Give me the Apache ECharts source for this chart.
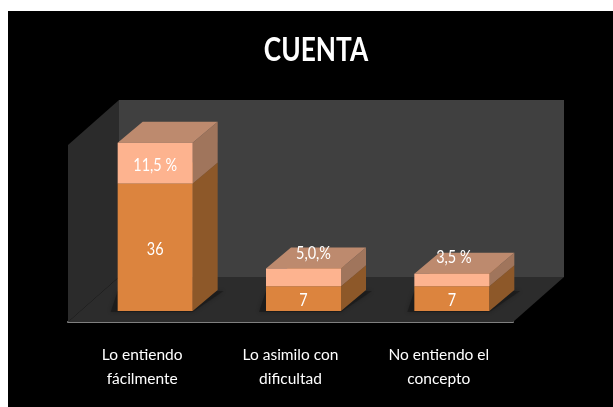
<!DOCTYPE html>
<html>
<head>
<meta charset="utf-8">
<style>
html, body { margin: 0; padding: 0; background: #fff; }
#chart { width: 613px; height: 407px; }
</style>
<script src="https://cdn.jsdelivr.net/npm/echarts@6/dist/echarts.min.js"></script>
</head>
<body>
<div id="chart"></div>
<script>
var categories = ['Lo entiendo\nfácilmente', 'Lo asimilo con\ndificultad', 'No entiendo el\nconcepto'];
var cuenta = [36, 7, 7];
var porcentaje = [11.5, 5, 3.5];
var cuentaText = ['36', '7', '7'];
var porcentajeText = ['11,5 %', '5,0,%', '3,5 %'];

var fontName = 'Lato';

// depth of the fake 3d box, and where the bars stand inside it
var boxDx = 51, boxDy = 45;
var barOffX = 13, barOffY = 11;
var barDx = 25, barDy = 21;
var barWidth = 75;

// hand moved labels (dx, dy from the middle of the segment)
var countLabelMove = [[0, 2], [0, 2], [0, 2]];
var pctLabelMove = [[0, 2], [10, -24], [2, -23]];

function poly(points, color, extra) {
	var el = { type: 'polygon', shape: { points: points }, style: { fill: color }, silent: true };
	if (extra) {
		for (var k in extra) el.style[k] = extra[k];
	}
	return el;
}

function renderBox(params) {
	var r = params.coordSys;
	var l = r.x, rgt = r.x + r.width, t = r.y, b = r.y + r.height;
	return {
		type: 'group',
		children: [
			// back wall
			poly([[l + boxDx, t - boxDy], [rgt + boxDx, t - boxDy], [rgt + boxDx, b - boxDy], [l + boxDx, b - boxDy]], '#404040'),
			// side wall
			poly([[l, t], [l + boxDx, t - boxDy], [l + boxDx, b - boxDy], [l, b]], '#2b2b2b'),
			// floor
			poly([[l, b], [rgt, b], [rgt + boxDx, b - boxDy], [l + boxDx, b - boxDy]], '#2c2c2c')
		]
	};
}

function renderSegment(colors, textArr, moves) {
	return function (params, api) {
		var i = api.value(0);
		var p0 = api.coord([i, api.value(1)]);
		var p1 = api.coord([i, api.value(1) + api.value(2)]);
		var x0 = p0[0] + barOffX - barWidth / 2;
		var x1 = x0 + barWidth;
		var y0 = p0[1] - barOffY;
		var y1 = p1[1] - barOffY;
		var mv = moves[i];
		var children = [];
		if (colors.shadow) {
			children.push(poly([[x0 - 7, y0 + 1], [x1, y0 + 1], [x1 + barDx + 6, y0 - barDy + 1], [x0, y0 - barDy + 1]], 'rgba(24,24,24,0.6)', { shadowBlur: 4, shadowColor: 'rgba(0,0,0,0.4)' }));
		}
		children.push(poly([[x1, y0], [x1 + barDx, y0 - barDy], [x1 + barDx, y1 - barDy], [x1, y1]], colors.side));
		children.push(poly([[x0, y1], [x1, y1], [x1 + barDx, y1 - barDy], [x0 + barDx, y1 - barDy]], colors.top));
		children.push(poly([[x0, y0], [x1, y0], [x1, y1], [x0, y1]], colors.front));
		children.push({
			type: 'text',
			silent: true,
			x: (x0 + x1) / 2 + mv[0],
			y: (y0 + y1) / 2 + mv[1],
			scaleX: 0.85,
			style: {
				text: textArr[i],
				x: 0,
				y: 0,
				fill: '#fff',
				font: '17px ' + fontName,
				textAlign: 'center',
				textVerticalAlign: 'middle'
			}
		});
		return { type: 'group', children: children };
	};
}

var cuentaData = [];
var porcentajeData = [];
for (var i = 0; i < categories.length; i++) {
	cuentaData.push([i, 0, cuenta[i]]);
	porcentajeData.push([i, cuenta[i], porcentaje[i]]);
}

var myChart = echarts.init(document.getElementById('chart'), null, { renderer: 'canvas' });

var option = {
	backgroundColor: '#fff',
	animation: false,
	graphic: [{
		type: 'rect',
		z: -1,
		shape: { x: 8, y: 11, width: 605, height: 396 },
		style: { fill: '#000' }
	}, {
		// title is squeezed sideways like in the picture, so not a title component
		type: 'text',
		z: 5,
		x: 316,
		y: 51,
		scaleX: 0.82,
		style: {
			text: 'CUENTA',
			x: 0,
			y: 0,
			fill: '#fff',
			font: 'bold 32px ' + fontName,
			textAlign: 'center',
			textVerticalAlign: 'middle'
		}
	}],
	grid: { left: 68, top: 145, width: 445, height: 177 },
	xAxis: {
		type: 'category',
		data: categories,
		axisLine: { show: true, lineStyle: { color: '#808080', width: 2 } },
		axisTick: { show: false },
		splitLine: { show: false },
		axisLabel: {
			color: '#fff',
			fontFamily: fontName,
			fontSize: 15.5,
			lineHeight: 24,
			margin: 21,
			interval: 0
		}
	},
	yAxis: { type: 'value', min: 0, max: 50, show: false, splitLine: { show: false } },
	series: [
		{
			type: 'custom',
			renderItem: renderBox,
			data: [[0, 0]],
			clip: false,
			silent: true,
			z: 1
		},
		{
			type: 'custom',
			renderItem: renderSegment({ front: '#dc843e', side: '#8d5829', top: '#8d5829', shadow: true }, cuentaText, countLabelMove),
			data: cuentaData,
			encode: { x: 0, y: 2 },
			clip: false,
			silent: true,
			z: 2
		},
		{
			type: 'custom',
			renderItem: renderSegment({ front: '#fdb38f', side: '#a0755c', top: '#bd8a6e' }, porcentajeText, pctLabelMove),
			data: porcentajeData,
			encode: { x: 0, y: 2 },
			clip: false,
			silent: true,
			z: 3
		}
	]
};

myChart.setOption(option);
</script>
</body>
</html>
